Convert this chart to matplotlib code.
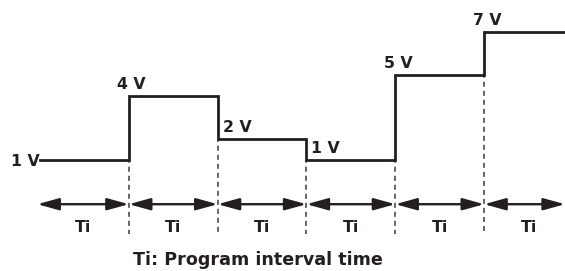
import matplotlib
matplotlib.use("Agg")
import matplotlib.pyplot as plt

# Data
voltages = [1, 4, 2, 1, 5, 7]
volt_labels = ["1 V", "4 V", "2 V", "1 V", "5 V", "7 V"]
interval_label = "Ti"
caption = "Ti: Program interval time"

plt.rcParams['font.family'] = ['DejaVu Sans']

INK = '#231f20'
LABEL_FS = 11.3
CAP_FS = 12.6

fig = plt.figure(figsize=(5.65, 2.71), dpi=100)
ax = fig.add_axes([0, 0, 1, 1])
ax.set_xlim(-0.45, 5.91)
ax.set_ylim(-4.2, 8.5)
ax.axis('off')

n = len(voltages)
edges = list(range(n + 1))
ys = voltages + [voltages[-1]]
ax.plot(edges, ys, drawstyle='steps-post', color=INK, lw=2.0,
        solid_joinstyle='miter', zorder=3)

arrow_y = -1.07
dash_bottom = -2.45
# dashed boundary lines
for i in range(1, n):
    lo = min(voltages[i - 1], voltages[i])
    ax.plot([i, i], [lo, dash_bottom], color='#3a3a3a', lw=1.1,
            linestyle=(1.5, (3.3, 2.6)), zorder=2)

# arrows
starts = [-0.03] + list(range(1, n))
ends = list(range(1, n)) + [5.91]
for s, e in zip(starts, ends):
    ax.annotate('', xy=(e, arrow_y), xytext=(s, arrow_y),
                arrowprops=dict(arrowstyle='<|-|>,head_length=1.3,head_width=0.36',
                                mutation_scale=10, lw=1.7, color=INK,
                                shrinkA=0, shrinkB=0))
    ax.text((s + e) / 2 if e < 5.9 else s + 0.5, -2.15, interval_label,
            ha='center', va='center', fontsize=LABEL_FS, fontweight='bold',
            color=INK)

# voltage labels
for i, (v, lab) in enumerate(zip(voltages, volt_labels)):
    if i == 0:
        ax.annotate(lab, xy=(0, v), xytext=(-0.5, -1), textcoords='offset points',
                    ha='right', va='center', fontsize=LABEL_FS, fontweight='bold',
                    color=INK)
    elif v > voltages[i - 1]:
        ax.annotate(lab, xy=(i, v), xytext=(2, 3), textcoords='offset points',
                    ha='center', va='bottom', fontsize=LABEL_FS, fontweight='bold',
                    color=INK)
    else:
        ax.annotate(lab, xy=(i, v), xytext=(3.5, 3), textcoords='offset points',
                    ha='left', va='bottom', fontsize=LABEL_FS, fontweight='bold',
                    color=INK)

ax.text(2.455, -3.69, caption, ha='center', va='center', fontsize=CAP_FS,
        fontweight='bold', color=INK)

fig.savefig('out.png', dpi=100, facecolor='white')
